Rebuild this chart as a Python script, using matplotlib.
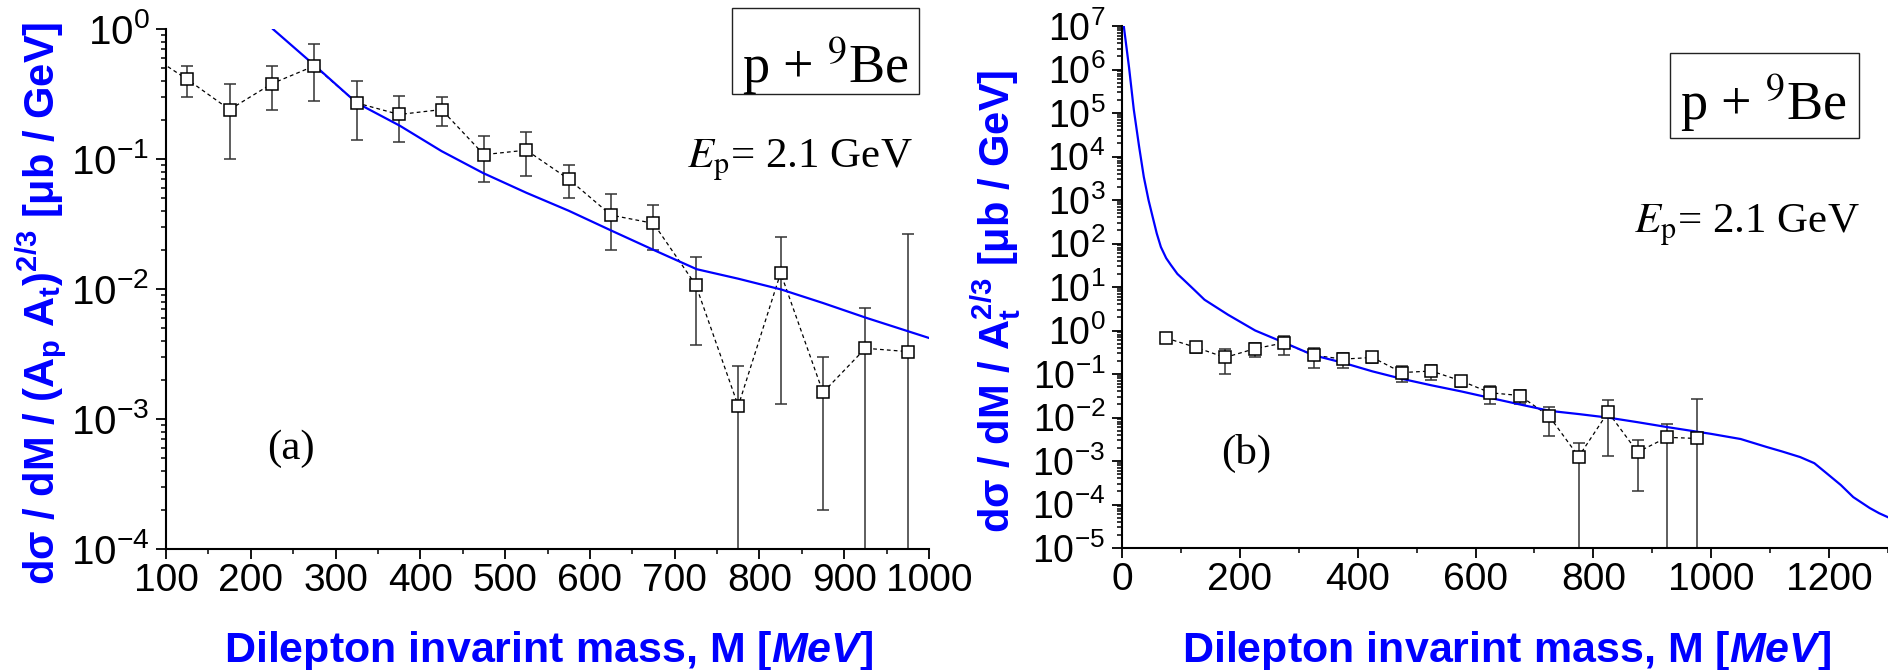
import matplotlib
matplotlib.use('Agg')
import matplotlib.pyplot as plt
from matplotlib.patches import Rectangle
from matplotlib.ticker import MultipleLocator, LogLocator, NullFormatter, LogFormatterSciNotation

# measured dilepton spectrum, p + 9Be at 2.1 GeV (bin centres in MeV)
mass = [75, 125, 175, 225, 275, 325, 375, 425, 475, 525,
        575, 625, 675, 725, 775, 825, 875, 925, 975]
dsigma = [0.67, 0.41, 0.24, 0.38, 0.52, 0.27, 0.22, 0.24, 0.108, 0.117,
          0.070, 0.037, 0.032, 0.0107, 0.00126, 0.0133, 0.0016, 0.0035, 0.0033]
dsigma_err = [0.10, 0.11, 0.14, 0.14, 0.24, 0.13, 0.085, 0.06, 0.042, 0.043,
              0.020, 0.017, 0.012, 0.0070, 0.0013, 0.012, 0.0014, 0.0036, 0.023]

# model calculation
model_m = [3, 12, 20, 29, 37, 45, 52, 59, 66, 75, 83, 94, 105, 123, 140, 180,
           226, 276, 325, 376, 425, 474, 525, 575, 626, 675, 726, 775, 826, 875,
           926, 1000, 1050, 1094, 1120, 1151, 1175, 1196, 1220, 1241, 1269, 1285,
           1300]
model_v = [1.0e7, 1.1e6, 1.2e5, 1.7e4, 3.4e3, 1.0e3, 4.1e2, 1.7e2, 83, 46, 32,
           20, 14.5, 8.5, 5.1, 2.3, 1.0, 0.52, 0.27, 0.18, 0.115, 0.078, 0.055,
           0.040, 0.028, 0.020, 0.0142, 0.012, 0.0099, 0.0078, 0.0060, 0.0042,
           0.0032, 0.0021, 0.00166, 0.00123, 8.9e-4, 5.2e-4, 2.8e-4, 1.48e-4,
           8.3e-5, 6.3e-5, 5.1e-5]

BLUE = '#0000ff'
W, H = 1888, 670

plt.rcParams['font.family'] = ['Liberation Sans', 'DejaVu Sans']
plt.rcParams['mathtext.fontset'] = 'custom'
plt.rcParams['mathtext.rm'] = 'Liberation Sans:bold'
plt.rcParams['mathtext.bf'] = 'Liberation Sans:bold'
plt.rcParams['mathtext.it'] = 'Liberation Sans:bold:italic'
plt.rcParams['mathtext.default'] = 'rm'


def px(x, y):
    return x / W, 1 - y / H


fig = plt.figure(figsize=(W / 100, H / 100), dpi=100)
ax_a = fig.add_axes([166 / W, 1 - 549 / H, (929 - 166) / W, (549 - 29) / H])
ax_b = fig.add_axes([1122 / W, 1 - 548 / H, (1888 - 1122) / W, (548 - 26) / H])

for ax in (ax_a, ax_b):
    ax.errorbar(mass, dsigma, yerr=dsigma_err, fmt='none', ecolor='#333333',
                elinewidth=1.1, capsize=4, capthick=1.1, zorder=2)
    ax.plot(mass, dsigma, color='black', lw=0.9, ls=(0, (3, 2.5)), zorder=2)
    ax.plot(model_m, model_v, color=BLUE, lw=1.6, zorder=3)
    ax.plot(mass, dsigma, ls='none', marker='s', ms=8, mfc='white', mec='black',
            mew=1.1, zorder=4)
    ax.set_yscale('log')
    for side in ('top', 'right'):
        ax.spines[side].set_visible(False)
    for side in ('left', 'bottom'):
        ax.spines[side].set_linewidth(1.5)
    ax.tick_params(which='major', direction='out', length=7, width=1.3, pad=3)
    ax.tick_params(which='minor', direction='out', length=3.5, width=1.1)
    ax.tick_params(axis='y', which='major', pad=5)
    ax.yaxis.set_major_locator(LogLocator(base=10, numticks=30))
    ax.yaxis.set_minor_locator(LogLocator(base=10, subs=range(2, 10), numticks=300))
    ax.yaxis.set_major_formatter(LogFormatterSciNotation())
    ax.yaxis.set_minor_formatter(NullFormatter())

ax_a.set_xlim(100, 1000)
ax_a.set_ylim(1e-4, 1)
ax_a.xaxis.set_major_locator(MultipleLocator(100))
ax_a.xaxis.set_minor_locator(MultipleLocator(50))
ax_a.tick_params(axis='x', labelsize=28)
ax_a.tick_params(axis='y', labelsize=29)

ax_b.set_xlim(0, 1300)
ax_b.set_ylim(1e-5, 1e7)
ax_b.xaxis.set_major_locator(MultipleLocator(200))
ax_b.xaxis.set_minor_locator(MultipleLocator(100))
ax_b.tick_params(axis='x', labelsize=28)
ax_b.tick_params(axis='y', labelsize=27)

# axis titles
xlab = 'Dilepton invarint mass, M $\\mathit{[MeV]}$'
fig.text(*px(549, 662), xlab, fontsize=31, fontweight='bold', color=BLUE,
         ha='center', va='baseline')
fig.text(*px(1507, 662), xlab, fontsize=31, fontweight='bold', color=BLUE,
         ha='center', va='baseline')
fig.text(*px(42, 303), 'dσ / dM / (A$_{p}$ A$_{t}$)$^{2/3}$ [μb / GeV]',
         fontsize=30, fontweight='bold', color=BLUE, rotation=90,
         ha='center', va='center')
fig.text(*px(996, 301), 'dσ / dM / A$_{t}^{2/3}$ [μb / GeV]',
         fontsize=30, fontweight='bold', color=BLUE, rotation=90,
         ha='center', va='center')

# reaction boxes and beam energy
serif = ['Liberation Serif', 'DejaVu Serif']
for (x0, y0, x1, y1), (cx, base) in [((732, 8, 919, 94), (826, 83)),
                                      ((1670, 53, 1859, 138), (1764, 120))]:
    fig.patches.append(Rectangle(px(x0, y1), (x1 - x0) / W, (y1 - y0) / H,
                                 transform=fig.transFigure, fill=False,
                                 ec='#222222', lw=1.0))
    fig.text(*px(cx, base), 'p + $^{9}$Be', family=serif, math_fontfamily='stix',
             fontsize=39, ha='center', va='baseline')

ep = '$\\mathit{E}_{\\mathrm{p}}$= 2.1 GeV'
fig.text(*px(687, 168), ep, family=serif, math_fontfamily='stix', fontsize=31,
         ha='left', va='baseline')
fig.text(*px(1634, 233), ep, family=serif, math_fontfamily='stix', fontsize=31,
         ha='left', va='baseline')

fig.text(*px(291, 449), '(a)', family=serif, fontsize=31, ha='center', va='center')
fig.text(*px(1246, 453), '(b)', family=serif, fontsize=31, ha='center', va='center')

fig.savefig('out.png', dpi=100)
